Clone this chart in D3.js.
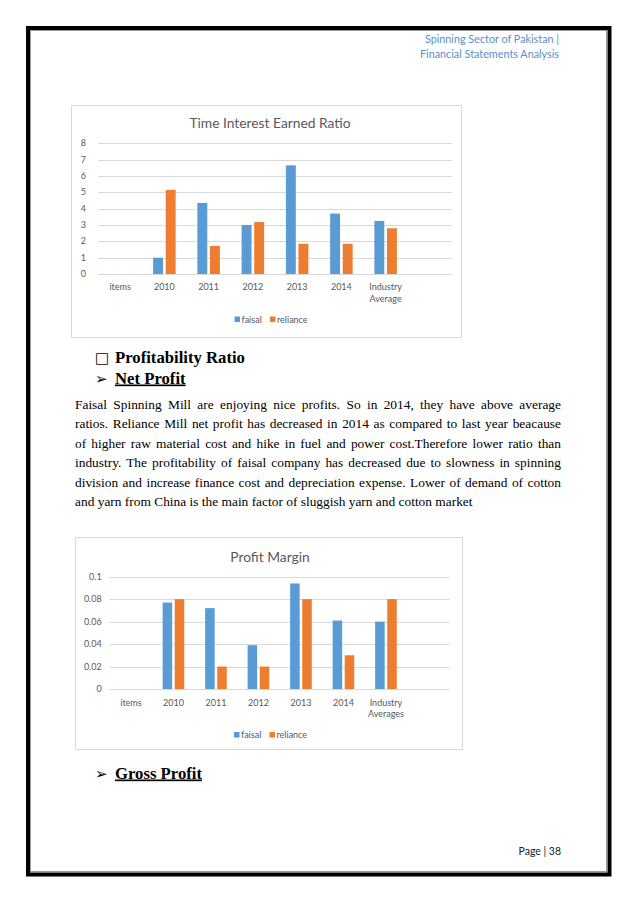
<!DOCTYPE html>
<html>
<head>
<meta charset="utf-8">
<script src="https://cdn.jsdelivr.net/npm/d3@7.9.0/dist/d3.min.js"></script>
<style>
  html, body { margin: 0; padding: 0; background: #fff; }
  #page { position: relative; width: 638px; height: 903px; overflow: hidden; }
  #page svg { position: absolute; left: 0; top: 0; }
  .para { position: absolute; left: 75px; width: 486px; font-family: "Liberation Serif", "Times New Roman", serif;
          font-size: 13.4px; line-height: 16px; color: #000; white-space: nowrap; }
  .para.just { text-align: justify; text-align-last: justify; white-space: normal; }
</style>
</head>
<body>
<div id="page"></div>
<script>
// --- chart data ---
const categories1 = ['items', '2010', '2011', '2012', '2013', '2014', 'Industry Average', ''];
const faisal1 = [null, 1.0, 4.35, 3.0, 6.65, 3.7, 3.25, null];
const reliance1 = [null, 5.15, 1.72, 3.18, 1.85, 1.85, 2.8, null];
const ticks1 = [0, 1, 2, 3, 4, 5, 6, 7, 8];

const categories2 = ['items', '2010', '2011', '2012', '2013', '2014', 'Industry Averages', ''];
const faisal2 = [null, 0.077, 0.072, 0.039, 0.094, 0.061, 0.06, null];
const reliance2 = [null, 0.08, 0.02, 0.02, 0.08, 0.03, 0.08, null];
const ticks2 = [0, 0.02, 0.04, 0.06, 0.08, 0.1];

const seriesNames = ['faisal', 'reliance'];
const colors = ['#5b9bd5', '#ed7d31'];

const paragraph = [
  'Faisal Spinning Mill are enjoying nice profits. So in 2014, they have above average',
  'ratios. Reliance Mill net profit has decreased in 2014 as compared to last year beacause',
  'of higher raw material cost and hike in fuel and power cost.Therefore lower ratio than',
  'industry. The profitability of faisal company has decreased due to slowness in spinning',
  'division and increase finance cost and depreciation expense. Lower of demand of cotton',
  'and yarn from China is the main factor of sluggish yarn and cotton market'
];

const page = d3.select('#page');
const svg = page.append('svg').attr('width', 638).attr('height', 903);

// page border: thick black with thin grey inner line
svg.append('rect').attr('x', 28).attr('y', 28).attr('width', 581.5).attr('height', 846.5)
  .attr('fill', 'none').attr('stroke', '#000').attr('stroke-width', 4);
svg.append('rect').attr('x', 30.5).attr('y', 30.5).attr('width', 576).attr('height', 841)
  .attr('fill', 'none').attr('stroke', '#9a9a9a').attr('stroke-width', 1);

// header
const header = svg.append('g').attr('font-family', 'Lato, sans-serif').attr('font-size', 10.8)
  .attr('fill', '#5a8fcb').attr('text-anchor', 'end');
header.append('text').attr('x', 559).attr('y', 43).text('Spinning Sector of Pakistan |');
header.append('text').attr('x', 559).attr('y', 57.5).text('Financial Statements Analysis');

function drawChart(cfg) {
  const g = svg.append('g');
  g.append('rect').attr('x', cfg.box[0] + 0.5).attr('y', cfg.box[1] + 0.5)
    .attr('width', cfg.box[2]).attr('height', cfg.box[3])
    .attr('fill', '#fff').attr('stroke', '#d9d9d9');

  g.append('text').attr('x', cfg.titleX).attr('y', cfg.titleY)
    .attr('text-anchor', 'middle').attr('font-family', 'Lato, sans-serif')
    .attr('font-size', 13.8).attr('fill', '#595959').text(cfg.title);

  const x = d3.scaleBand().domain(d3.range(cfg.categories.length)).range([cfg.left, cfg.right]);
  const y = d3.scaleLinear().domain([0, d3.max(cfg.ticks)]).range([cfg.bottom, cfg.top]);

  // excel-like: gap width 219%, overlap -27%
  const bw = x.bandwidth() / 4.46;
  const xs = d3.scaleOrdinal().domain([0, 1]).range([-1.135 * bw, 0.135 * bw]);

  // gridlines
  g.append('g').selectAll('line').data(cfg.ticks).join('line')
    .attr('x1', cfg.left).attr('x2', cfg.right)
    .attr('y1', d => Math.round(y(d)) + 0.5).attr('y2', d => Math.round(y(d)) + 0.5)
    .attr('stroke', '#d9d9d9');

  // y axis labels
  g.append('g').attr('font-family', 'Lato, sans-serif').attr('font-size', 9).attr('fill', '#595959')
    .selectAll('text').data(cfg.ticks).join('text')
    .attr('x', cfg.left - cfg.labelGap).attr('y', d => y(d)).attr('dy', '0.35em')
    .attr('text-anchor', 'end').text(d => cfg.fmt(d));

  // bars
  [cfg.faisal, cfg.reliance].forEach((vals, si) => {
    g.append('g').attr('fill', colors[si]).selectAll('rect')
      .data(vals.map((v, i) => ({ v, i })).filter(d => d.v != null)).join('rect')
      .attr('x', d => x(d.i) + x.bandwidth() / 2 + xs(si))
      .attr('width', bw)
      .attr('y', d => y(d.v))
      .attr('height', d => y(0) - y(d.v));
  });

  // category labels
  const lab = g.append('g').attr('font-family', 'Lato, sans-serif').attr('font-size', 9)
    .attr('fill', '#595959').attr('text-anchor', 'middle');
  cfg.categories.forEach((c, i) => {
    const lines = c.includes(' ') ? c.split(' ') : [c];
    lines.forEach((t, li) => {
      lab.append('text').attr('x', x(i) + x.bandwidth() / 2)
        .attr('y', cfg.catY + li * cfg.catLine).text(t);
    });
  });

  // legend
  const leg = g.append('g').attr('font-family', 'Lato, sans-serif').attr('font-size', 9).attr('fill', '#595959');
  const legX = [cfg.legendX, cfg.legendX + 35.5];
  seriesNames.forEach((s, i) => {
    leg.append('rect').attr('x', legX[i]).attr('y', cfg.legendY - 6).attr('width', 5.5).attr('height', 5.5)
      .attr('fill', colors[i]);
    leg.append('text').attr('x', legX[i] + 7).attr('y', cfg.legendY).text(s);
  });
}

drawChart({
  box: [71, 105, 390, 232], title: 'Time Interest Earned Ratio', titleX: 270, titleY: 128,
  categories: categories1, faisal: faisal1, reliance: reliance1, ticks: ticks1,
  left: 98, right: 452, top: 143.3, bottom: 274, labelGap: 12, fmt: d => String(d),
  catY: 290, catLine: 12, legendX: 234.5, legendY: 322.5
});

drawChart({
  box: [75, 537, 387, 212], title: 'Profit Margin', titleX: 270, titleY: 561.5,
  categories: categories2, faisal: faisal2, reliance: reliance2, ticks: ticks2,
  left: 109.7, right: 449.7, top: 576.7, bottom: 689, labelGap: 8, fmt: d => d3.format('~g')(d),
  catY: 705.5, catLine: 11, legendX: 234, legendY: 738
});

// headings
const head = svg.append('g').attr('font-family', '"Liberation Serif", serif').attr('font-size', 16.7)
  .attr('font-weight', 'bold').attr('fill', '#000');
head.append('text').attr('x', 95).attr('y', 362.5).attr('font-family', '"DejaVu Sans", sans-serif')
  .attr('font-weight', 'normal').attr('font-size', 15).text('\u25A1');
head.append('text').attr('x', 115).attr('y', 362.5).text('Profitability Ratio');
[['Net Profit', 383.5], ['Gross Profit', 778.5]].forEach(([t, yy]) => {
  head.append('text').attr('x', 95).attr('y', yy).attr('font-family', '"DejaVu Sans", sans-serif')
    .attr('font-weight', 'normal').attr('font-size', 15).text('\u27A2');
  head.append('text').attr('x', 115).attr('y', yy).attr('text-decoration', 'underline').text(t);
});

// page number
svg.append('text').attr('x', 561).attr('y', 854.5).attr('text-anchor', 'end')
  .attr('font-family', 'Lato, sans-serif').attr('font-size', 10.5).attr('fill', '#222').text('Page | 38');

// paragraph lines
paragraph.forEach((t, i) => {
  page.append('div').attr('class', i < paragraph.length - 1 ? 'para just' : 'para')
    .style('top', (397 + i * 19.4) + 'px').text(t);
});
</script>
</body>
</html>
